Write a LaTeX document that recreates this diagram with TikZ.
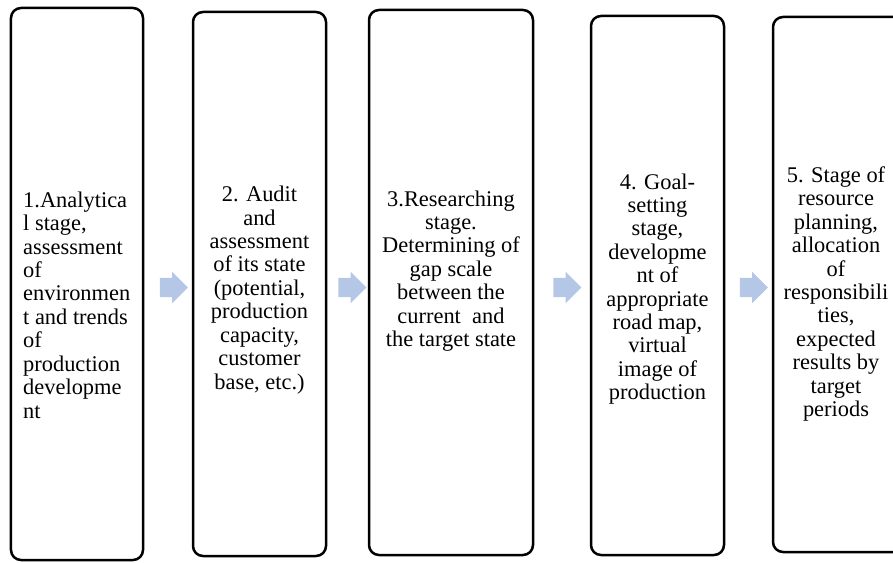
\documentclass[tikz,border=0pt]{standalone}
\usepackage{fontspec}
\setmainfont{Liberation Serif}
\usetikzlibrary{shapes.arrows}
\definecolor{arrowblue}{RGB}{180,199,231}
\begin{document}
\begin{tikzpicture}[
	x=1bp, y=-1bp,
	stagebox/.style={draw, line width=2.5bp, rounded corners=10bp, inner sep=0pt},
	stagetext/.style={inner sep=0pt, align=center, font=\fontsize{22.5}{23.5}\selectfont},
	stagearrow/.style={single arrow, fill=arrowblue, inner xsep=0pt, inner ysep=9.5bp, minimum height=28bp, single arrow head extend=6bp}
	]
\clip (0,0) rectangle (893,563);

\node[stagebox, minimum width=132bp, minimum height=552bp] at (77,284) (s1){};
\node[stagebox, minimum width=133bp, minimum height=544bp] at (259.5,284) (s2){};
\node[stagebox, minimum width=164bp, minimum height=545bp] at (451,282.5) (s3){};
\node[stagebox, minimum width=133bp, minimum height=539bp] at (657.5,285.5) (s4){};
\node[stagebox, minimum width=133bp, minimum height=535bp] at (839.5,284.5) (s5){};

\node[stagetext, align=left, anchor=west] at (23,305) (t1){1.Analytica\\l stage,\\assessment\\of\\environmen\\t and trends\\of\\production\\developme\\nt};
\node[stagetext] at (259.5,290) (t2){2. Audit\\and\\assessment\\of its state\\(potential,\\production\\capacity,\\customer\\base, etc.)};
\node[stagetext] at (451,271) (t3){3.Researching\\stage.\\Determining of\\gap scale\\between the\\current\ \ and\\the target state};
\node[stagetext] at (657.5,289) (t4){4. Goal-\\setting\\stage,\\developme\\nt of\\appropriate\\road map,\\virtual\\image of\\production};
\node[stagetext] at (836,294) (t5){5. Stage of\\resource\\planning,\\allocation\\of\\responsibili\\ties,\\expected\\results by\\target\\periods};

\node[stagearrow] at (169,287.5) (r1){};
\node[stagearrow] at (347.5,287.5) (r2){};
\node[stagearrow] at (562.5,287.5) (r3){};
\node[stagearrow] at (749,287.5) (r4){};

\end{tikzpicture}
\end{document}
